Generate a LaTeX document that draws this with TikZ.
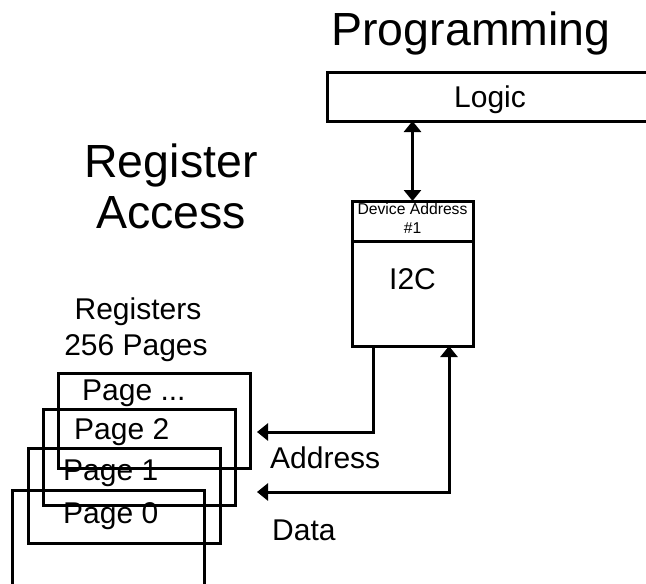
\documentclass[tikz,border=0pt]{standalone}
\usepackage{fontspec}
\setmainfont{Liberation Sans}
\usetikzlibrary{arrows.meta}
\tikzset{
  box/.style={draw, line width=3pt, inner sep=0pt, outer sep=0pt, anchor=north west},
  big/.style={font=\fontsize{46.5}{51}\selectfont, inner sep=0pt, anchor=base, align=center},
  lbl/.style={font=\fontsize{30}{36}\selectfont, inner sep=0pt, anchor=base},
  small/.style={font=\fontsize{15.7}{19}\selectfont, inner sep=0pt, anchor=base},
  conn/.style={line width=3pt, arrows={-Triangle[width=17pt,length=11pt]}},
  conn2/.style={line width=3pt, arrows={Triangle[width=17pt,length=11pt]-Triangle[width=17pt,length=11pt]}},
}
\begin{document}
\begin{tikzpicture}[x=1pt,y=-1pt]
\useasboundingbox (0,0) rectangle (646,584);
\clip (0,0) rectangle (646,584);
% titles
\node[big] (prog) at (471,45) {Programming};
\node[big] (reg) at (171,177) {Register};
\node[big] (acc) at (171,228) {Access};
\node[lbl] (regs) at (138,319) {Registers};
\node[lbl] (pages) at (136,355) {256 Pages};
% logic box
\node[box, minimum width=340pt, minimum height=49pt] (logic) at (327,72) {};
\node[lbl] (logict) at (490,107) {Logic};
% device box
\node[box, minimum width=121pt, minimum height=145pt] (dev) at (352,201) {};
\draw[line width=3pt] (dev.north west |- 0,241) coordinate (divl) -- (dev.north east |- 0,241) coordinate (divr);
\node[small] (devt) at (dev.north |- 0,214) {Device Address};
\node[small] (devn) at (dev.north |- 0,233) {\#1};
\node[lbl] (i2c) at (dev.north |- 0,289) {I2C};
% pages
\node[box, minimum width=192pt, minimum height=95pt] (pgd) at (58,373) {};
\node[box, minimum width=192pt, minimum height=96pt] (pg2) at (43,409) {};
\node[box, minimum width=192pt, minimum height=95pt] (pg1) at (28,448) {};
\node[box, minimum width=192pt, minimum height=110pt] (pg0) at (12,490) {};
\node[lbl, anchor=base west] (pgdt) at (82,400) {Page ...};
\node[lbl, anchor=base west] (pg2t) at (74,439) {Page 2};
\node[lbl, anchor=base west] (pg1t) at (63,480) {Page 1};
\node[lbl, anchor=base west] (pg0t) at (63,523) {Page 0};
% connectors
\draw[conn2] (dev.north |- logic.south) -- (dev.north);
\coordinate (addrend) at (257,432);
\coordinate (dataend) at (257,492);
\draw[conn] ([xshift=-39.5pt]dev.south) |- (addrend);
\draw[conn2] (dataend) -| ([xshift=36.5pt]dev.south);
\node[lbl, anchor=base west] (addr) at (270,468) {Address};
\node[lbl, anchor=base west] (data) at (272,540) {Data};
\end{tikzpicture}
\end{document}
